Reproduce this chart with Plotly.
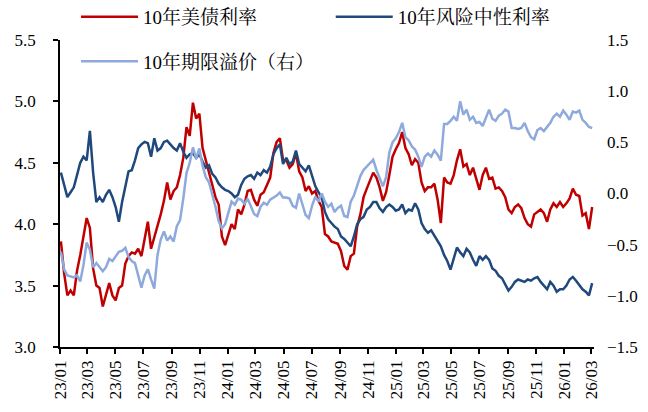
import pandas as pd
import plotly.graph_objects as go

# Weekly observations, Jan 2023 - Mar 2026
dates = pd.date_range("2023-01-03", periods=166, freq="7D")

# 10-year Treasury yield (%)
ust10y = [
    3.86, 3.60, 3.42, 3.46, 3.42, 3.62, 3.75, 3.90, 4.05, 3.97,
    3.64, 3.50, 3.48, 3.33, 3.42, 3.52, 3.42, 3.38, 3.48, 3.50,
    3.68, 3.74, 3.77, 3.76, 3.80, 3.74, 3.88, 4.02, 3.80, 3.89,
    3.98, 4.08, 4.19, 4.34, 4.20, 4.27, 4.30, 4.40, 4.54, 4.79,
    4.72, 4.99, 4.86, 4.90, 4.62, 4.52, 4.44, 4.34, 4.22, 4.16,
    3.90, 3.83, 3.92, 4.00, 3.96, 4.12, 4.08, 4.16, 4.27, 4.28,
    4.20, 4.15, 4.24, 4.26, 4.32, 4.38, 4.58, 4.67, 4.70, 4.52,
    4.52, 4.46, 4.49, 4.58, 4.43, 4.38, 4.27, 4.31, 4.25, 4.27,
    4.19, 4.14, 3.92, 3.90, 3.86, 3.85, 3.84, 3.78, 3.66, 3.63,
    3.74, 3.76, 3.98, 4.08, 4.22, 4.29, 4.36, 4.42, 4.38, 4.30,
    4.19, 4.26, 4.40, 4.55, 4.61, 4.66, 4.75, 4.62, 4.57, 4.48,
    4.53, 4.50, 4.34, 4.27, 4.30, 4.30, 4.33, 4.20, 4.01, 4.38,
    4.34, 4.33, 4.40, 4.52, 4.61, 4.47, 4.49, 4.40, 4.46, 4.36,
    4.28, 4.40, 4.46, 4.37, 4.38, 4.29, 4.30, 4.27, 4.22, 4.12,
    4.09, 4.14, 4.16, 4.13, 4.05, 4.00, 3.98, 4.08, 4.10, 4.12,
    4.09, 4.02, 4.12, 4.17, 4.14, 4.18, 4.14, 4.17, 4.21, 4.29,
    4.24, 4.23, 4.07, 4.09, 3.96, 4.14,
]

# 10-year risk-neutral yield (%)
risk_neutral = [
    4.42, 4.32, 4.22, 4.26, 4.30, 4.40, 4.50, 4.55, 4.52, 4.76,
    4.42, 4.18, 4.22, 4.18, 4.24, 4.28, 4.22, 4.14, 4.02, 4.18,
    4.30, 4.43, 4.44, 4.52, 4.62, 4.65, 4.67, 4.66, 4.55, 4.70,
    4.60, 4.62, 4.67, 4.68, 4.65, 4.62, 4.60, 4.66, 4.59, 4.54,
    4.57, 4.58, 4.54, 4.57, 4.51, 4.46, 4.48, 4.41, 4.38, 4.33,
    4.30, 4.28, 4.27, 4.25, 4.22, 4.24, 4.32, 4.37, 4.39, 4.40,
    4.37, 4.42, 4.40, 4.44, 4.42, 4.47, 4.57, 4.62, 4.65, 4.49,
    4.54, 4.49, 4.51, 4.60, 4.49, 4.46, 4.43, 4.48, 4.39, 4.31,
    4.26, 4.22, 4.10, 4.04, 4.01, 3.98, 3.96, 3.90, 3.88, 3.85,
    3.82, 3.90, 4.00, 4.04, 4.06, 4.12, 4.14, 4.18, 4.18, 4.13,
    4.10, 4.14, 4.16, 4.14, 4.11, 4.12, 4.16, 4.09, 4.12, 4.11,
    4.17, 4.12, 4.01, 3.96, 3.93, 3.95, 3.91, 3.86, 3.82, 3.75,
    3.70, 3.63, 3.73, 3.81, 3.77, 3.74, 3.80, 3.77, 3.71, 3.66,
    3.74, 3.71, 3.74, 3.71, 3.64, 3.62, 3.58, 3.56, 3.51, 3.46,
    3.49, 3.53, 3.55, 3.54, 3.53, 3.55, 3.54, 3.56, 3.57, 3.53,
    3.50, 3.47, 3.53, 3.50, 3.45, 3.47, 3.47, 3.50, 3.55, 3.57,
    3.54, 3.50, 3.47, 3.45, 3.42, 3.52,
]

# 10-year term premium (%, right axis)
term_premium = [
    -0.57, -0.74, -0.80, -0.81, -0.82, -0.80, -0.86, -0.70, -0.48, -0.55,
    -0.72, -0.68, -0.72, -0.76, -0.72, -0.64, -0.66, -0.62, -0.57, -0.56,
    -0.53, -0.62, -0.66, -0.68, -0.80, -0.92, -0.80, -0.74, -0.84, -0.93,
    -0.60, -0.45, -0.37, -0.46, -0.42, -0.47, -0.32, -0.26, -0.05, 0.20,
    0.30, 0.45, 0.34, 0.44, 0.27, 0.16, 0.11, 0.00, -0.13, -0.27,
    -0.34, -0.30, -0.20, -0.08, -0.11, -0.05, -0.06, -0.10, -0.05, -0.12,
    -0.20, -0.22, -0.13, -0.09, -0.11, -0.06, -0.04, -0.02, 0.01, -0.04,
    -0.04, -0.05, -0.12, -0.14, 0.00, -0.10, -0.21, -0.24, -0.12, -0.03,
    -0.08, 0.00, -0.08, -0.13, -0.10, -0.18, -0.14, -0.12, -0.22, -0.23,
    -0.08, -0.02, 0.08, 0.17, 0.23, 0.26, 0.30, 0.33, 0.23, 0.14,
    0.07, 0.16, 0.40, 0.50, 0.54, 0.60, 0.69, 0.55, 0.52, 0.46,
    0.43, 0.36, 0.26, 0.36, 0.39, 0.36, 0.42, 0.38, 0.32, 0.68,
    0.68, 0.71, 0.75, 0.71, 0.90, 0.77, 0.82, 0.72, 0.75, 0.69,
    0.70, 0.66, 0.75, 0.82, 0.73, 0.71, 0.76, 0.78, 0.82, 0.80,
    0.64, 0.64, 0.63, 0.64, 0.69, 0.61, 0.55, 0.53, 0.62, 0.64,
    0.61, 0.65, 0.69, 0.75, 0.78, 0.75, 0.81, 0.77, 0.72, 0.80,
    0.79, 0.81, 0.72, 0.69, 0.65, 0.64,
]

names = ["10年美债利率", "10年风险中性利率", "10年期限溢价（右）"]
colors = ["#C00000", "#1F497D", "#8EA9DB"]

FONT = "Liberation Serif, Noto Serif CJK SC, Noto Sans CJK SC, serif"

fig = go.Figure()
fig.add_trace(go.Scatter(x=dates, y=ust10y, name=names[0], mode="lines",
                         line=dict(color=colors[0], width=2.5), legend="legend"))
fig.add_trace(go.Scatter(x=dates, y=risk_neutral, name=names[1], mode="lines",
                         line=dict(color=colors[1], width=2.5), legend="legend2"))
fig.add_trace(go.Scatter(x=dates, y=term_premium, name=names[2], mode="lines",
                         line=dict(color=colors[2], width=2.5), yaxis="y2",
                         legend="legend3"))

tick_font = dict(family=FONT, size=17, color="black")
legend_font = dict(family=FONT, size=19, color="black")


def legend_box(x, y):
    return dict(orientation="h", x=x, y=y, xanchor="left", yanchor="middle",
                itemwidth=57, bgcolor="rgba(0,0,0,0)", font=legend_font)


fig.update_layout(
    width=648, height=412,
    margin=dict(l=60, r=54, t=40, b=65, autoexpand=False),
    paper_bgcolor="white", plot_bgcolor="white",
    font=dict(family=FONT, color="black"),
    xaxis=dict(type="date", range=["2023-01-01", "2026-03-07"],
               tick0="2023-01-01", dtick="M2", tickformat="%y/%m",
               tickangle=-90, ticks="outside", ticklen=5, tickwidth=1.5,
               tickcolor="black", showline=True, linecolor="black", linewidth=1.5,
               showgrid=False, zeroline=False, tickfont=tick_font),
    yaxis=dict(range=[3, 5.5], dtick=0.5, tickformat=".1f",
               ticks="outside", ticklen=5, tickwidth=1.5, tickcolor="black",
               showline=True, linecolor="black", linewidth=1.5,
               showgrid=False, zeroline=False,
               ticklabelstandoff=14, tickfont=tick_font),
    yaxis2=dict(range=[-1.5, 1.5], dtick=0.5, tickformat=".1f",
                overlaying="y", side="right", showline=False, ticks="",
                showgrid=False, zeroline=False,
                ticklabelstandoff=12, tickfont=tick_font),
    legend=legend_box(0.03, 1.075),
    legend2=legend_box(0.507, 1.075),
    legend3=legend_box(0.03, 0.93),
    showlegend=True,
)

fig.write_html("out.html")
